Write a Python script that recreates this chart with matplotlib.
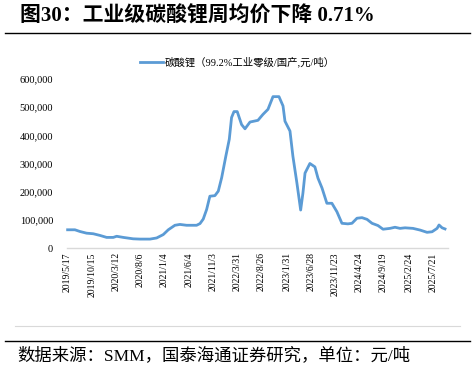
import matplotlib
matplotlib.use("Agg")
import matplotlib.pyplot as plt
from matplotlib.lines import Line2D
import pandas as pd

plt.rcParams['font.family'] = ['Liberation Serif', 'Noto Sans CJK SC', 'DejaVu Sans']

# ---------------- data ----------------
dates = ["2019-05-17", "2019-07-01", "2019-08-01", "2019-09-11", "2019-10-22", "2019-12-03",
         "2020-01-13", "2020-02-23", "2020-03-15", "2020-04-25", "2020-06-25", "2020-08-06",
         "2020-10-07", "2020-11-17", "2020-12-28", "2021-01-28", "2021-03-10", "2021-04-10",
         "2021-05-21", "2021-07-22", "2021-08-12", "2021-09-01", "2021-09-22", "2021-10-12",
         "2021-11-12", "2021-12-03", "2021-12-24", "2022-01-19", "2022-02-09", "2022-02-23",
         "2022-03-10", "2022-03-30", "2022-04-26", "2022-05-17", "2022-06-17", "2022-08-05",
         "2022-09-05", "2022-10-06", "2022-11-06", "2022-12-13", "2023-01-07", "2023-01-19",
         "2023-02-19", "2023-03-09", "2023-04-03", "2023-04-26", "2023-05-10", "2023-05-23",
         "2023-06-22", "2023-07-23", "2023-08-11", "2023-09-05", "2023-10-05", "2023-11-05",
         "2023-12-06", "2024-01-06", "2024-02-12", "2024-03-08", "2024-04-08", "2024-05-09",
         "2024-06-09", "2024-07-10", "2024-08-16", "2024-09-16", "2024-10-29", "2024-11-29",
         "2024-12-30", "2025-01-30", "2025-03-20", "2025-05-03", "2025-06-15", "2025-07-16",
         "2025-08-16", "2025-08-28", "2025-09-16", "2025-10-04"]
price = [65000, 65000, 59000, 53000, 51000, 45000,
         38000, 38000, 42000, 38000, 33000, 32000,
         32000, 36000, 48000, 65000, 81000, 84000,
         81000, 81000, 87000, 103000, 137000, 184000,
         186000, 202000, 250000, 327000, 386000, 463000,
         484000, 484000, 438000, 423000, 447000, 453000,
         474000, 492000, 537000, 537000, 504000, 450000,
         415000, 326000, 230000, 135000, 195000, 266000,
         300000, 288000, 248000, 213000, 159000, 159000,
         129000, 88000, 86000, 88000, 106000, 108000,
         102000, 88000, 80000, 67000, 70000, 74000,
         70000, 72000, 70000, 64000, 56000, 58000,
         70000, 82000, 72000, 68000]
tick_dates = ["2019-05-17", "2019-10-15", "2020-03-12", "2020-08-06", "2021-01-04", "2021-06-04",
              "2021-11-03", "2022-03-31", "2022-08-26", "2023-01-31", "2023-06-28", "2023-11-23",
              "2024-04-24", "2024-09-19", "2025-02-24", "2025-07-21"]
tick_labels = ["2019/5/17", "2019/10/15", "2020/3/12", "2020/8/6", "2021/1/4", "2021/6/4",
               "2021/11/3", "2022/3/31", "2022/8/26", "2023/1/31", "2023/6/28", "2023/11/23",
               "2024/4/24", "2024/9/19", "2025/2/24", "2025/7/21"]
yticks = [0, 100000, 200000, 300000, 400000, 500000, 600000]
series_name = "碳酸锂（99.2%工业零级/国产,元/吨）"
title = "图30：工业级碳酸锂周均价下降 0.71%"
source = "数据来源：SMM，国泰海通证券研究，单位：元/吨"

BLUE = "#5B9BD5"

fig = plt.figure(figsize=(4.75, 3.72), dpi=100)
ax = fig.add_axes([0.141, 0.333, 0.802, 0.455])

x = pd.to_datetime(dates)
ax.plot(x, price, color=BLUE, lw=2.0, solid_joinstyle="round", clip_on=False)

ax.set_ylim(0, 600000)
ax.set_xlim(pd.Timestamp("2019-05-13"), pd.Timestamp("2025-10-22"))
ax.set_yticks(yticks)
ax.set_yticklabels([f"{v:,}" for v in yticks], fontsize=7.5)
ax.set_xticks(pd.to_datetime(tick_dates))
ax.set_xticklabels(tick_labels, rotation=90, fontsize=7)
ax.tick_params(axis="both", length=0, pad=3)
ax.tick_params(axis="y", pad=10)
for s in ["top", "right", "left"]:
    ax.spines[s].set_visible(False)
ax.spines["bottom"].set_color("#D9D9D9")
ax.spines["bottom"].set_linewidth(1.0)

# legend drawn as a line + text above the plot
fig.add_artist(Line2D([140 / 475, 163 / 475], [1 - 62 / 372] * 2, color=BLUE, lw=2.0))
fig.text(165 / 475, 1 - 62 / 372, series_name, fontsize=7.5, va="center", ha="left")

# title, rules and source note
fig.text(20 / 475, 1 - 16 / 372, title, fontsize=15, fontweight="bold", va="center", ha="left")
fig.add_artist(Line2D([5 / 475, 470 / 475], [1 - 33 / 372] * 2, color="black", lw=1.0))
fig.add_artist(Line2D([15 / 475, 460 / 475], [1 - 326 / 372] * 2, color="#D9D9D9", lw=0.8))
fig.add_artist(Line2D([5 / 475, 470 / 475], [1 - 341 / 372] * 2, color="black", lw=1.0))
fig.text(17 / 475, 1 - 356 / 372, source, fontsize=12.5, va="center", ha="left")

fig.savefig("out.png", dpi=100)
